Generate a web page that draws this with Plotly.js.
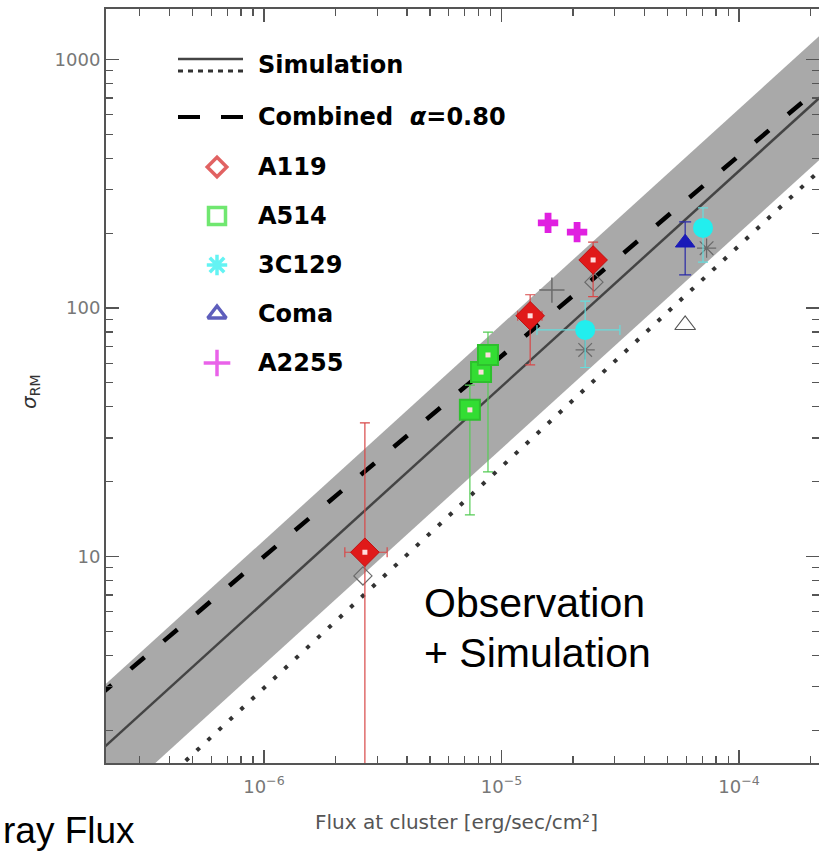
<!DOCTYPE html>
<html><head><meta charset="utf-8">
<script src="https://cdn.plot.ly/plotly-3.0.1.min.js"></script>
<style>html,body{margin:0;padding:0;background:#fff;overflow:hidden}</style>
</head><body><div id="chart" style="width:819px;height:853px"></div>
<script>
// ---------------- data ----------------
const lineX        = [2.0e-7, 2.5e-4];
const simSolidY    = [1.62, 789];
const simDottedY   = [0.706, 403];
const combinedY    = [2.73, 859];
const bandX        = [2.0e-7, 2.5e-4, 2.5e-4, 2.0e-7];
const bandY        = [2.87, 1403, 444, 0.91];

const a119X   = [2.66e-6, 1.32e-5, 2.43e-5];
const a119Y   = [10.4, 93, 156];
const a119Yp  = [24.1, 20, 28];
const a119Ym  = [10.0, 34, 45];
const a119Xp  = [0.64e-6, 0.16e-5, 0.20e-5];
const a119Xm  = [0.47e-6, 0.15e-5, 0.18e-5];
const a119SimX = [2.61e-6, 2.45e-5];
const a119SimY = [8.35, 127];

const a514X   = [7.36e-6, 8.2e-6, 8.77e-6];
const a514Y   = [38.9, 55.2, 64.7];
const a514Yp  = [10, 0, 15.3];
const a514Ym  = [24.2, 0, 42.8];

const c3c129X  = [2.25e-5, 7.05e-5];
const c3c129Y  = [81.6, 210];
const c3c129Yp = [25, 43];
const c3c129Ym = [24, 57];
const c3c129Xp = [0.90e-5, 0];
const c3c129Xm = [0.84e-5, 0];
const c3c129SimX = [2.25e-5, 7.3e-5];
const c3c129SimY = [67.8, 174];

const comaX  = [5.93e-5];
const comaY  = [183];
const comaYp = [39];
const comaYm = [47];
const comaSimX = [5.93e-5];
const comaSimY = [85.4];

const a2255X = [1.57e-5, 2.08e-5];
const a2255Y = [220, 202];
const a2255SimX = [1.63e-5];
const a2255SimY = [118];

const legendNames = ['Simulation', 'Combined  <i>α</i>=0.80', 'A119', 'A514', '3C129', 'Coma', 'A2255'];
const xTickVals = [1e-6, 1e-5, 1e-4];
const xTickText = ['10<sup>−6</sup>', '10<sup>−5</sup>', '10<sup>−4</sup>'];
const yTickVals = [10, 100, 1000];
const yTickText = ['10', '100', '1000'];

// ---------------- layout geometry ----------------
const L = 106, T = 9, R = 819, B = 763, W = 819, H = 853;
const px = v => (v - L) / (R - L);
const py = v => (B - v) / (B - T);

const minorX = [];
for (let e = -7; e <= -4; e++) for (let m = 2; m <= 9; m++) minorX.push(m * Math.pow(10, e));
const minorY = [];
for (let e = 0; e <= 3; e++) for (let m = 2; m <= 9; m++) minorY.push(m * Math.pow(10, e));

const RED = '#e01a1a', GREEN = '#33dd33', CYAN = '#22eeee', BLUE = '#1a1ab8', MAG = '#e020e0', SIMG = '#6a6a6a';

const traces = [];
// band
traces.push({x: bandX, y: bandY, mode: 'lines', fill: 'toself', fillcolor: '#a9a9a9',
  line: {width: 0, color: '#a9a9a9'}, hoverinfo: 'skip', showlegend: false});
// dotted simulation
traces.push({x: lineX, y: simDottedY, mode: 'lines', line: {color: '#333', width: 4, dash: '4px,11px'}, showlegend: false});
// solid simulation
traces.push({x: lineX, y: simSolidY, mode: 'lines', line: {color: '#444', width: 2.5}, showlegend: false});
// combined dashed
traces.push({x: lineX, y: combinedY, mode: 'lines', line: {color: '#000', width: 4.5, dash: '18px,25px'}, showlegend: false});

// simulation counterparts (gray open)
traces.push({x: a119SimX, y: a119SimY, mode: 'markers', marker: {symbol: 'diamond-open', size: 14, color: SIMG, line: {width: 1.2}}, showlegend: false});
traces.push({x: c3c129SimX, y: c3c129SimY, mode: 'markers', marker: {symbol: 'asterisk-open', size: 16, color: SIMG, line: {width: 1.2, color: SIMG}}, showlegend: false});
traces.push({x: comaSimX, y: comaSimY, mode: 'markers', marker: {symbol: 'triangle-up-open', size: 18, color: '#555', line: {width: 1.2}}, showlegend: false});
traces.push({x: a2255SimX, y: a2255SimY, mode: 'markers', marker: {symbol: 'cross-thin-open', size: 18, color: SIMG, line: {width: 1.5, color: SIMG}}, showlegend: false});

// observations
traces.push({x: a514X, y: a514Y, mode: 'markers',
  error_y: {type: 'data', symmetric: false, array: a514Yp, arrayminus: a514Ym, color: '#55cc55', thickness: 1.2, width: 5},
  marker: {symbol: 'square', size: 20, color: GREEN, line: {width: 2, color: '#2ec02e'}}, showlegend: false});
traces.push({x: a119X, y: a119Y, mode: 'markers',
  error_y: {type: 'data', symmetric: false, array: a119Yp, arrayminus: a119Ym, color: '#d84848', thickness: 1.2, width: 5},
  error_x: {type: 'data', symmetric: false, array: a119Xp, arrayminus: a119Xm, color: '#d84848', thickness: 1.2, width: 5},
  marker: {symbol: 'diamond', size: 22, color: RED, line: {width: 1, color: '#c01010'}}, showlegend: false});
traces.push({x: c3c129X, y: c3c129Y, mode: 'markers',
  error_y: {type: 'data', symmetric: false, array: c3c129Yp, arrayminus: c3c129Ym, color: '#66dddd', thickness: 1.2, width: 5},
  error_x: {type: 'data', symmetric: false, array: c3c129Xp, arrayminus: c3c129Xm, color: '#66dddd', thickness: 1.2, width: 5},
  marker: {symbol: 'circle', size: 20, color: CYAN, line: {width: 0}}, showlegend: false});
traces.push({x: comaX, y: comaY, mode: 'markers',
  error_y: {type: 'data', symmetric: false, array: comaYp, arrayminus: comaYm, color: '#2a2aa8', thickness: 1.2, width: 6},
  marker: {symbol: 'triangle-up', size: 17, color: BLUE, line: {width: 1, color: BLUE}}, showlegend: false});
traces.push({x: a2255X, y: a2255Y, mode: 'markers',
  marker: {symbol: 'cross', size: 17, color: MAG, line: {width: 0}}, showlegend: false});
// white centres of filled symbols
traces.push({x: a119X.concat(a514X), y: a119Y.concat(a514Y), mode: 'markers',
  marker: {symbol: 'square', size: 5, color: '#ffdddd', line: {width: 0}}, showlegend: false, hoverinfo: 'skip'});

// ---------------- legend (drawn on a pixel overlay axis) ----------------
const lgX0 = 178, lgX1 = 243, lgSym = 217, lgText = 256;
const lgY = [65, 117, 167, 216, 265, 314, 363];
const ov = {xaxis: 'x2', yaxis: 'y2', hoverinfo: 'skip', showlegend: false};
traces.push(Object.assign({x: [lgX0, lgX1], y: [59, 59], mode: 'lines', line: {color: '#444', width: 2.5}}, ov));
traces.push(Object.assign({x: [lgX0, lgX1], y: [71, 71], mode: 'lines', line: {color: '#333', width: 3, dash: '5px,5px'}}, ov));
traces.push(Object.assign({x: [lgX0, lgX1], y: [lgY[1], lgY[1]], mode: 'lines', line: {color: '#000', width: 4, dash: '22px,21px'}}, ov));
const lgSymbols = ['diamond-open', 'square-open', 'asterisk-open', 'triangle-up-open', 'cross-thin-open'];
const lgColors = ['#d42020', GREEN, CYAN, '#1a1aa0', MAG];
const lgSizes = [15, 17, 17, 16, 19];
traces.push(Object.assign({x: lgSymbols.map(() => lgSym), y: lgY.slice(2), mode: 'markers',
  marker: {symbol: lgSymbols, color: lgColors, size: lgSizes, line: {width: 3.5, color: lgColors}}}, ov));

const annotations = legendNames.map((t, i) => ({
  xref: 'x2', yref: 'y2', x: lgText, y: lgY[i], xanchor: 'left', yanchor: 'middle', showarrow: false,
  text: t, font: {family: 'DejaVu Sans', size: 24, color: '#000', weight: 'bold'}
}));
annotations.push({xref: 'paper', yref: 'paper', x: px(422), y: py(603), xanchor: 'left', yanchor: 'middle', showarrow: false,
  text: 'Observation', font: {family: 'Liberation Sans, Arial', size: 41, color: '#000'}});
annotations.push({xref: 'paper', yref: 'paper', x: px(422), y: py(653), xanchor: 'left', yanchor: 'middle', showarrow: false,
  text: '+ Simulation', font: {family: 'Liberation Sans, Arial', size: 41, color: '#000'}});
annotations.push({xref: 'paper', yref: 'paper', x: px(1), y: py(830), xanchor: 'left', yanchor: 'middle', showarrow: false,
  text: 'ray Flux', font: {family: 'Liberation Sans, Arial', size: 37, color: '#000'}});
annotations.push({xref: 'paper', yref: 'paper', x: px(456), y: py(822), xanchor: 'center', yanchor: 'middle', showarrow: false,
  text: 'Flux at cluster [erg/sec/cm²]', font: {family: 'DejaVu Sans', size: 20, color: '#555'}});
annotations.push({xref: 'paper', yref: 'paper', x: px(30), y: py(392), xanchor: 'center', yanchor: 'middle', showarrow: false,
  textangle: -90, text: '<i>σ</i><sub>RM</sub>', font: {family: 'DejaVu Sans', size: 20, color: '#333'}});

const axisCommon = {type: 'log', showgrid: false, zeroline: false, showline: true, linecolor: '#555', linewidth: 2,
  mirror: 'allticks', ticks: 'inside', ticklen: 13, tickwidth: 1.5, tickcolor: '#555',
  tickfont: {family: 'DejaVu Sans', size: 18, color: '#777'}};

const layout = {
  width: W, height: H, margin: {l: L, r: W - R, t: T, b: H - B}, paper_bgcolor: '#fff', plot_bgcolor: '#fff',
  showlegend: false,
  xaxis: Object.assign({}, axisCommon, {range: [Math.log10(2.163e-7), Math.log10(2.17e-4)], tickmode: 'array',
    tickvals: xTickVals, ticktext: xTickText, ticklabelstandoff: 6,
    minor: {tickmode: 'array', tickvals: minorX, ticks: 'inside', ticklen: 7, tickwidth: 1.2, tickcolor: '#555', showgrid: false}}),
  yaxis: Object.assign({}, axisCommon, {range: [0.169, 3.203], tickmode: 'array', tickvals: yTickVals, ticktext: yTickText,
    minor: {tickmode: 'array', tickvals: minorY, ticks: 'inside', ticklen: 7, tickwidth: 1.2, tickcolor: '#555', showgrid: false}}),
  xaxis2: {overlaying: 'x', anchor: 'y2', range: [L, R], visible: false, fixedrange: true},
  yaxis2: {overlaying: 'y', anchor: 'x2', range: [B, T], visible: false, fixedrange: true},
  annotations: annotations
};

Plotly.newPlot('chart', traces, layout, {displayModeBar: false, staticPlot: true});
</script></body></html>
